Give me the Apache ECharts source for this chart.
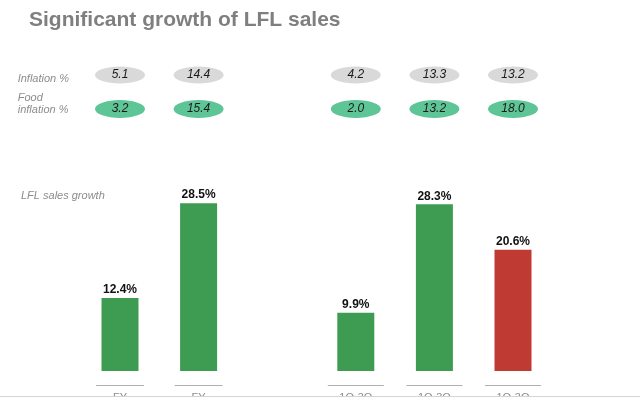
<!DOCTYPE html>
<html>
<head>
<meta charset="utf-8">
<script src="https://cdn.jsdelivr.net/npm/echarts@6/dist/echarts.min.js"></script>
<style>html,body{margin:0;padding:0;background:#fff}#c{width:640px;height:413px}</style>
</head>
<body>
<div id="c"></div>
<script>
var categories = ['FY', 'FY', '', '1Q-3Q', '1Q-3Q', '1Q-3Q'];
var lflGrowth = [12.4, 28.5, '-', 9.9, 28.3, 20.6];
var inflation = [5.1, 14.4, '-', 4.2, 13.3, 13.2];
var foodInflation = [3.2, 15.4, '-', 2.0, 13.2, 18.0];
var rowLabels = ['Inflation %', 'Food\ninflation %'];

function pillData(arr, row) {
  var out = [];
  arr.forEach(function (v, i) { if (v !== '-') out.push([i, row, v]); });
  return out;
}

var chart = echarts.init(document.getElementById('c'));
var font = 'Liberation Sans, Arial, sans-serif';
chart.setOption({
  animation: false,
  backgroundColor: '#fff',
  title: [
    { text: 'Significant growth of LFL sales', left: 24, top: 5,
      textStyle: { fontFamily: font, fontSize: 21, fontWeight: 'bold', color: '#7f7f7f' } },
    { text: 'LFL sales growth', left: 16, top: 185,
      textStyle: { fontFamily: font, fontSize: 11, fontStyle: 'italic', fontWeight: 'normal', color: '#8c8c8c' } }
  ],
  grid: [
    { left: 80.7, right: 87.7, top: 194.3, bottom: 42 },
    { left: 80.7, right: 87.7, top: 58, height: 68 }
  ],
  xAxis: [
    { type: 'category', gridIndex: 0, data: categories,
      axisLine: { show: false }, axisTick: { show: false },
      axisLabel: {
        interval: 0, margin: 14,
        formatter: function (v) {
          if (!v) return '';
          return (v === 'FY' ? '{l1|}' : '{l2|}') + '\n{t|' + v + '}';
        },
        rich: {
          l1: { width: 48, height: 1, backgroundColor: '#b0b0b0' },
          l2: { width: 56, height: 1, backgroundColor: '#b0b0b0' },
          t: { fontFamily: font, fontSize: 11, color: '#8c8c8c', padding: [6, 0, 0, 0] }
        }
      } },
    { type: 'category', gridIndex: 1, data: categories, show: false }
  ],
  yAxis: [
    { type: 'value', gridIndex: 0, min: 0, max: 30, show: false },
    { type: 'category', gridIndex: 1, data: rowLabels, inverse: true,
      axisLine: { show: false }, axisTick: { show: false }, splitLine: { show: false },
      axisLabel: {
        align: 'left', margin: 63,
        formatter: function (v, i) { return (i === 0 ? '{a|' : '{b|') + v + '}'; },
        rich: {
          a: { fontFamily: font, fontSize: 11, fontStyle: 'italic', color: '#8c8c8c', padding: [8, 0, 0, 0] },
          b: { fontFamily: font, fontSize: 11, fontStyle: 'italic', color: '#8c8c8c', lineHeight: 12, padding: [0, 0, 11, 0] }
        }
      } }
  ],
  series: [
    { type: 'bar', xAxisIndex: 0, yAxisIndex: 0, data: lflGrowth, barWidth: 37,
      itemStyle: { color: function (p) { return p.dataIndex === lflGrowth.length - 1 ? '#bf3a33' : '#3e9b52'; } },
      label: { show: true, position: 'top', distance: 2,
        formatter: function (p) { return p.value.toFixed(1) + '%'; },
        fontFamily: font, fontSize: 12, fontWeight: 'bold', color: '#111' } },
    { type: 'scatter', xAxisIndex: 1, yAxisIndex: 1, data: pillData(inflation, 0),
      symbol: 'circle', symbolSize: [50, 17], itemStyle: { color: '#d9d9d9', opacity: 1 },
      label: { show: true, position: 'inside', formatter: function (p) { return p.value[2].toFixed(1); },
        fontFamily: font, fontSize: 12, fontStyle: 'italic', color: '#1a1a1a' } },
    { type: 'scatter', xAxisIndex: 1, yAxisIndex: 1, data: pillData(foodInflation, 1),
      symbol: 'circle', symbolSize: [50, 18], itemStyle: { color: '#5ec597', opacity: 1 },
      label: { show: true, position: 'inside', formatter: function (p) { return p.value[2].toFixed(1); },
        fontFamily: font, fontSize: 12, fontStyle: 'italic', color: '#1a1a1a' } }
  ],
  graphic: [
    { type: 'rect', z: 100, shape: { x: 0, y: 396.5, width: 640, height: 17 }, style: { fill: '#fff' } },
    { type: 'line', z: 101, shape: { x1: 0, y1: 396.5, x2: 640, y2: 396.5 }, style: { stroke: '#d4d4d4', lineWidth: 1 } }
  ]
});
</script>
</body>
</html>
